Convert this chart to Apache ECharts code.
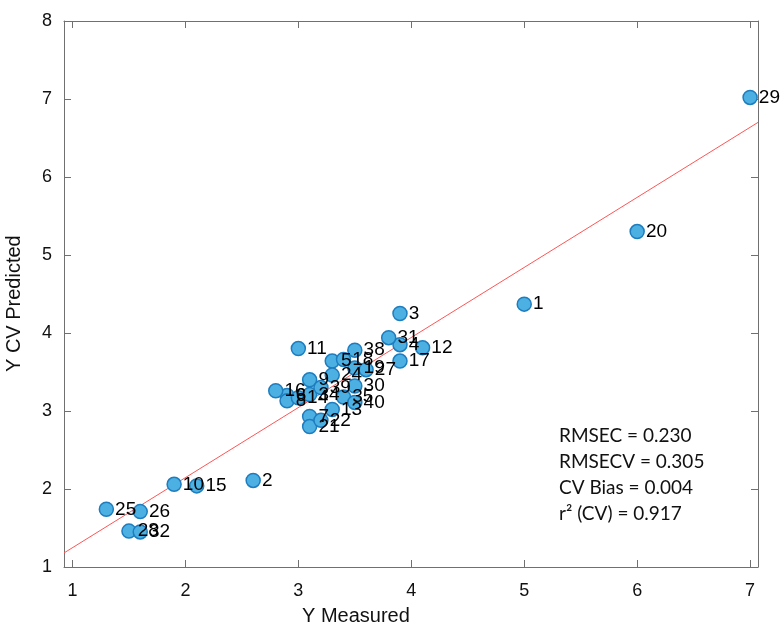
<!DOCTYPE html>
<html>
<head>
<meta charset="utf-8">
<title>Y CV Predicted vs Y Measured</title>
<script src="https://cdn.jsdelivr.net/npm/echarts@6/dist/echarts.min.js"></script>
<style>
  html, body { margin: 0; padding: 0; background: #ffffff; }
  #chart { width: 781px; height: 631px; }
</style>
</head>
<body>
<div id="chart"></div>
<script>
// Sample numbers shown next to each point
const sampleIds = ['1','2','3','4','5','6','7','8','9','10','11','12','13','14','15','16','17','18','19','20',
                   '21','22','24','25','26','27','28','29','30','31','32','34','35','38','39','40'];
// Measured reference values (x)
const measured = [5.0, 2.6, 3.9, 3.9, 3.3, 2.9, 3.1, 2.9, 3.1, 1.9, 3.0, 4.1, 3.3, 3.0, 2.1, 2.8, 3.9, 3.4, 3.5, 6.0,
                  3.1, 3.2, 3.3, 1.3, 1.6, 3.6, 1.5, 7.0, 3.5, 3.8, 1.6, 3.1, 3.4, 3.5, 3.2, 3.5];
// Cross-validated predictions (y)
const predicted = [4.37, 2.11, 4.25, 3.85, 3.64, 3.20, 2.93, 3.13, 3.40, 2.06, 3.80, 3.81, 3.02, 3.17, 2.04, 3.26, 3.64, 3.66, 3.55, 5.30,
                   2.80, 2.88, 3.46, 1.74, 1.71, 3.53, 1.46, 7.02, 3.32, 3.94, 1.45, 3.21, 3.18, 3.78, 3.30, 3.11];
// Fitted regression line, end points at the plot edges
const fitX = [0.925, 7.07];
const fitY = [1.18, 6.70];
// Tick values
const xTicks = [1, 2, 3, 4, 5, 6, 7];
const statLines = ['RMSEC = 0.230', 'RMSECV = 0.305', 'CV Bias = 0.004', 'r\u00B2 (CV) = 0.917'];

const X_MIN = 0.925, X_MAX = 7.07;
const axisColor = '#707070';
const tickStyle = { show: true, inside: true, length: 7, lineStyle: { color: axisColor, width: 1 } };
const baseFont = "'Liberation Sans', Arial, Helvetica, sans-serif";

const points = sampleIds.map((id, i) => ({ name: id, value: [measured[i], predicted[i]] }));
const fitLine = fitX.map((x, i) => [x, fitY[i]]);

const chart = echarts.init(document.getElementById('chart'), null, { renderer: 'canvas' });

chart.setOption({
  backgroundColor: '#ffffff',
  animation: false,
  textStyle: { fontFamily: baseFont },
  grid: { left: 64, right: 23, top: 21, bottom: 64, containLabel: false },
  xAxis: [
    {
      type: 'value', position: 'bottom', min: X_MIN, max: X_MAX,
      axisLine: { show: true, onZero: false, lineStyle: { color: axisColor, width: 1 } },
      axisTick: Object.assign({ customValues: xTicks }, tickStyle),
      axisLabel: { customValues: xTicks, fontSize: 18, color: '#111111', fontFamily: baseFont, margin: 15 },
      splitLine: { show: false }
    },
    {
      type: 'value', position: 'top', min: X_MIN, max: X_MAX,
      axisLine: { show: true, onZero: false, lineStyle: { color: axisColor, width: 1 } },
      axisTick: Object.assign({ customValues: xTicks }, tickStyle),
      axisLabel: { show: false },
      splitLine: { show: false }
    }
  ],
  yAxis: [
    {
      type: 'value', position: 'left', min: 1, max: 8, interval: 1,
      axisLine: { show: true, onZero: false, lineStyle: { color: axisColor, width: 1 } },
      axisTick: tickStyle,
      axisLabel: { fontSize: 18, color: '#111111', fontFamily: baseFont, margin: 12 },
      splitLine: { show: false }
    },
    {
      type: 'value', position: 'right', min: 1, max: 8, interval: 1,
      axisLine: { show: true, onZero: false, lineStyle: { color: axisColor, width: 1 } },
      axisTick: tickStyle,
      axisLabel: { show: false },
      splitLine: { show: false }
    }
  ],
  series: [
    {
      name: 'fit', type: 'line', xAxisIndex: 0, yAxisIndex: 0,
      data: fitLine, symbol: 'none', silent: true, z: 1,
      lineStyle: { color: '#ff5555', width: 1 }
    },
    {
      name: 'samples', type: 'scatter', xAxisIndex: 0, yAxisIndex: 0,
      data: points, symbol: 'circle', symbolSize: 14, z: 3,
      itemStyle: { color: '#4cb0e2', borderColor: '#1e7dbf', borderWidth: 1.5, opacity: 1 },
      label: {
        show: true, position: 'right', distance: 1,
        formatter: p => p.name,
        fontSize: 19, color: '#000000', fontFamily: baseFont
      },
      labelLayout: { hideOverlap: false }
    }
  ],
  graphic: [
    {
      type: 'text', left: 302, top: 606,
      style: { text: 'Y Measured', fontSize: 20, fill: '#111111', fontFamily: baseFont }
    },
    {
      type: 'text', x: 4, y: 372, rotation: Math.PI / 2,
      style: { text: 'Y CV Predicted', fontSize: 20, fill: '#111111', fontFamily: baseFont }
    },
    {
      type: 'text', left: 559, top: 423,
      style: { text: statLines.join('\n'), fontSize: 19, lineHeight: 26, fill: '#111111', fontFamily: "Lato, Carlito, sans-serif" }
    }
  ]
});
</script>
</body>
</html>
